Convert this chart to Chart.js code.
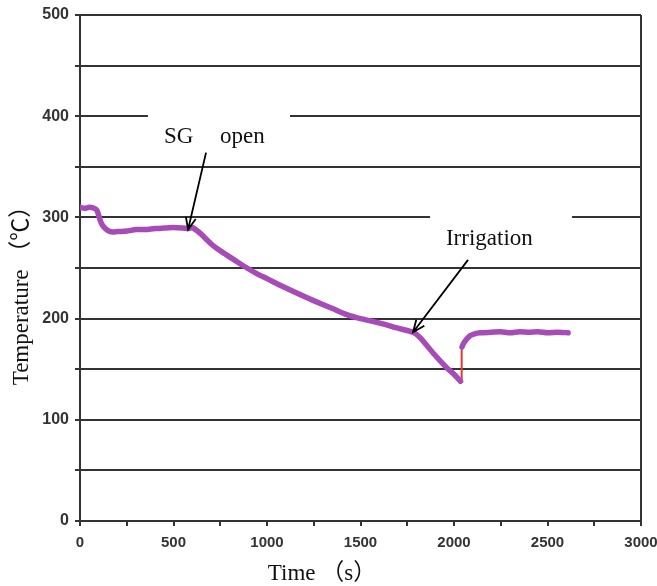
<!DOCTYPE html>
<html>
<head>
<meta charset="utf-8">
<script src="https://cdn.jsdelivr.net/npm/chart.js@4"></script>
<style>
  html, body { margin: 0; padding: 0; background: #ffffff; }
  canvas { display: block; }
</style>
</head>
<body>
<canvas id="chart" width="657" height="586"></canvas>
<script>
// Temperature record (s, °C) before irrigation starts
const timeBefore = [0, 25, 50, 75, 90, 100, 110, 125, 150, 175, 200, 250, 300, 350, 400, 450, 500, 550, 580, 600, 625, 650, 700, 750, 800, 850, 893, 950, 1000, 1070, 1150, 1246, 1350, 1427, 1500, 1604, 1700, 1781, 1820, 1888, 1963, 2000, 2035];
const tempBefore = [310, 309, 310, 309, 307, 302, 296, 291, 287, 285.5, 286, 286.5, 288, 288, 289, 289.5, 290, 289.5, 289, 290, 287, 283, 274, 267, 261, 255, 250, 244, 239.5, 233, 226, 218, 210, 204, 200, 195.5, 190.5, 186.5, 181, 166, 151, 145, 138];
// Temperature record after irrigation
const timeAfter = [2043, 2050, 2065, 2085, 2110, 2140, 2200, 2250, 2300, 2350, 2400, 2450, 2500, 2550, 2610];
const tempAfter = [172, 175, 179, 183, 185, 186, 186.5, 187, 186, 187, 186.5, 187, 186, 186.5, 186];
// Step jump at the moment irrigation begins
const timeJump = [2041, 2041];
const tempJump = [138, 170];

const xTicks = [0, 500, 1000, 1500, 2000, 2500, 3000];
const yTicks = [0, 100, 200, 300, 400, 500];

const toPoints = (xs, ys) => xs.map((x, i) => ({ x: x, y: ys[i] }));

const axisColor = '#333333';
const lineColor = '#a64bb8';

// Text labels, arrows and the white boxes behind the labels
const notesPlugin = {
  id: 'notes',
  beforeDatasetsDraw(chart) {
    const { ctx, scales: { x, y } } = chart;
    ctx.save();
    ctx.fillStyle = '#ffffff';
    const boxes = [[363, 1123, 385, 412], [1872, 2631, 285, 312]];
    boxes.forEach(([x0, x1, y0, y1]) => {
      const px0 = x.getPixelForValue(x0), px1 = x.getPixelForValue(x1);
      const py0 = y.getPixelForValue(y1), py1 = y.getPixelForValue(y0);
      ctx.fillRect(px0, py0, px1 - px0, py1 - py0);
    });
    ctx.restore();
  },
  afterDraw(chart) {
    const { ctx, scales: { x, y } } = chart;
    ctx.save();
    ctx.fillStyle = '#111111';
    ctx.textBaseline = 'alphabetic';
    ctx.textAlign = 'left';
    ctx.font = '23px "Liberation Serif", "Times New Roman", serif';
    ctx.fillText('SG', x.getPixelForValue(449), y.getPixelForValue(373.5));
    ctx.fillText('open', x.getPixelForValue(749), y.getPixelForValue(373.5));
    ctx.fillText('Irrigation', x.getPixelForValue(1957), y.getPixelForValue(272.7));

    const arrow = (tx, ty, hx, hy) => {
      const x0 = x.getPixelForValue(tx), y0 = y.getPixelForValue(ty);
      const x1 = x.getPixelForValue(hx), y1 = y.getPixelForValue(hy);
      const a = Math.atan2(y1 - y0, x1 - x0);
      const len = 13, spread = 0.4;
      ctx.strokeStyle = '#000000';
      ctx.lineWidth = 1.8;
      ctx.beginPath();
      ctx.moveTo(x0, y0);
      ctx.lineTo(x1, y1);
      ctx.moveTo(x1 - len * Math.cos(a - spread), y1 - len * Math.sin(a - spread));
      ctx.lineTo(x1, y1);
      ctx.lineTo(x1 - len * Math.cos(a + spread), y1 - len * Math.sin(a + spread));
      ctx.stroke();
    };
    arrow(674, 364, 578, 288);
    arrow(2075, 258, 1781, 186.5);

    // Axis titles
    ctx.font = '23px "Liberation Serif", "Times New Roman", "Noto Sans CJK SC", serif';
    ctx.textAlign = 'center';
    ctx.textBaseline = 'middle';
    ctx.fillText('Time （s）', 322, 574);
    ctx.translate(22, 290);
    ctx.rotate(-Math.PI / 2);
    ctx.fillText('Temperature （℃）', 0, 0);
    ctx.restore();
  }
};

new Chart(document.getElementById('chart'), {
  type: 'line',
  data: {
    datasets: [
      {
        data: toPoints(timeBefore, tempBefore),
        borderColor: lineColor,
        borderWidth: 5.5,
        pointRadius: 0,
        tension: 0.2,
        borderCapStyle: 'round',
        borderJoinStyle: 'round'
      },
      {
        data: toPoints(timeAfter, tempAfter),
        borderColor: lineColor,
        borderWidth: 5.5,
        pointRadius: 0,
        tension: 0.2,
        borderCapStyle: 'round',
        borderJoinStyle: 'round'
      },
      {
        data: toPoints(timeJump, tempJump),
        borderColor: '#e8382e',
        borderWidth: 2,
        pointRadius: 0
      }
    ]
  },
  options: {
    responsive: false,
    animation: false,
    devicePixelRatio: 1,
    layout: { padding: { top: 15, right: 16, left: 0, bottom: 0 } },
    plugins: { legend: { display: false }, tooltip: { enabled: false } },
    scales: {
      x: {
        type: 'linear',
        min: 0,
        max: 3000,
        afterFit(scale) {
          scale.height = 65;
          scale.paddingLeft = 0;
          scale.paddingRight = 0;
        },
        ticks: {
          stepSize: 250,
          maxRotation: 0,
          autoSkip: false,
          padding: 8,
          color: axisColor,
          font: { family: '"Liberation Sans", Arial, sans-serif', size: 15, weight: 'bold' },
          callback: (v) => xTicks.includes(v) ? String(v) : ''
        },
        grid: {
          drawOnChartArea: true,
          color: (c) => (c.tick && c.tick.value === 3000) ? axisColor : 'rgba(0,0,0,0)',
          tickColor: axisColor,
          tickLength: 5,
          lineWidth: 2
        },
        border: { color: axisColor, width: 2 }
      },
      y: {
        min: 0,
        max: 500,
        afterFit(scale) {
          scale.width = 80;
          scale.paddingTop = 0;
          scale.paddingBottom = 0;
        },
        ticks: {
          stepSize: 50,
          autoSkip: false,
          padding: 6,
          color: axisColor,
          font: { family: '"Liberation Sans", Arial, sans-serif', size: 16, weight: 'bold' },
          callback: (v) => yTicks.includes(v) ? String(v) : ''
        },
        grid: {
          color: axisColor,
          tickColor: axisColor,
          tickLength: 5,
          lineWidth: 2
        },
        border: { color: axisColor, width: 2 }
      }
    }
  },
  plugins: [notesPlugin]
});
</script>
</body>
</html>
